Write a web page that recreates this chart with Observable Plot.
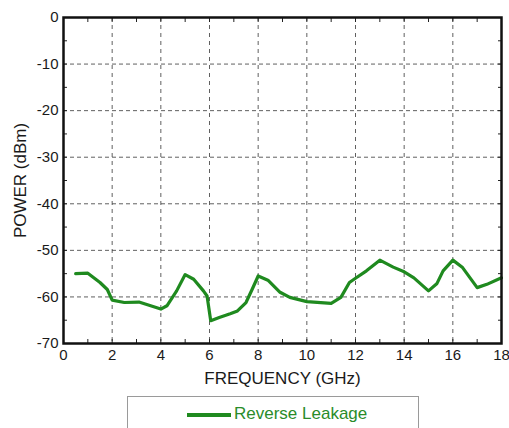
<!DOCTYPE html>
<html><head><meta charset="utf-8">
<script src="https://cdn.jsdelivr.net/npm/d3@7"></script>
<script src="https://cdn.jsdelivr.net/npm/@observablehq/plot@0.6"></script>
<style>
body{margin:0;background:#fff;font-family:"Liberation Sans",Arial,sans-serif;}
#wrap{position:relative;width:509px;height:428px;overflow:hidden;}
#legend{position:absolute;left:127px;top:396px;width:292px;height:40px;border:1px solid #9a9a9a;box-sizing:border-box;background:#fff;}
#legend .sw{position:absolute;left:59px;top:16px;width:44px;height:3.5px;background:#1f8a1f;}
#legend .tx{position:absolute;left:106px;top:7px;font-size:17px;color:#2a8c2a;}
</style></head>
<body><div id="wrap"><div id="chart"></div><div id="legend"><div class="sw"></div><div class="tx">Reverse Leakage</div></div></div>
<script>
const freq = [0.5,1.0,1.5,1.8,2.0,2.5,3.1,4.0,4.25,4.65,5.0,5.35,5.75,5.9,6.05,6.4,6.85,7.15,7.5,7.75,8.0,8.4,8.9,9.3,10.0,11.0,11.4,11.75,12.0,12.45,13.0,13.55,14.0,14.4,15.0,15.35,15.6,16.0,16.4,17.0,17.4,18.0];
const power = [-55,-54.9,-56.9,-58.4,-60.7,-61.2,-61.1,-62.6,-61.9,-58.7,-55.2,-56.2,-58.7,-59.8,-65.1,-64.4,-63.6,-63,-61.2,-58.4,-55.5,-56.4,-59,-60.1,-61,-61.4,-60.1,-56.9,-56,-54.4,-52.1,-53.6,-54.6,-55.9,-58.7,-57.1,-54.4,-52.1,-53.7,-58,-57.3,-55.9];
const xTicks = [0,2,4,6,8,10,12,14,16,18];
const yTicks = [0,-10,-20,-30,-40,-50,-60,-70];
const xMinor = d3.range(0,19,1);
const yMinor = d3.range(-70,1,5);
const data = freq.map((f,i)=>({f, p: power[i]}));
const fmt = d => String(d);

const plot = Plot.plot({
  width: 509, height: 392,
  marginTop: 17, marginLeft: 63, marginRight: 8, marginBottom: 49,
  style: {fontFamily: '"Liberation Sans", Arial, sans-serif', fontSize: "15px", color: "#1a1a1a", background: "#fff"},
  x: {domain: [0,18]},
  y: {domain: [-70,0]},
  marks: [
    Plot.gridX(xTicks.slice(1,-1), {stroke: "#444", strokeOpacity: 0.85, strokeDasharray: "4,4", strokeWidth: 1}),
    Plot.gridY(yTicks.slice(1,-1), {stroke: "#444", strokeOpacity: 0.85, strokeDasharray: "4,3", strokeWidth: 1}),
    Plot.axisX({anchor: "bottom", ticks: xMinor, tickSize: -4, text: null, label: null, stroke: "#222"}),
    Plot.axisX({anchor: "top", ticks: xMinor, tickSize: -4, text: null, label: null, stroke: "#222"}),
    Plot.axisY({anchor: "left", ticks: yMinor, tickSize: -4, text: null, label: null, stroke: "#222"}),
    Plot.axisY({anchor: "right", ticks: yMinor, tickSize: -4, text: null, label: null, stroke: "#222"}),
    Plot.axisX({anchor: "bottom", ticks: xTicks, tickFormat: fmt, tickSize: 0, tickPadding: 6, fontSize: 15, label: null}),
    Plot.axisY({anchor: "left", ticks: yTicks, tickFormat: fmt, tickSize: 0, tickPadding: 5, fontSize: 15, label: null}),
    Plot.axisX({anchor: "bottom", ticks: [], tickSize: 0, label: "FREQUENCY (GHz)", labelAnchor: "center", labelOffset: 40, labelArrow: "none", fontSize: 17}),
    Plot.axisY({anchor: "left", ticks: [], tickSize: 0, label: "POWER (dBm)", labelAnchor: "center", labelOffset: 50, labelArrow: "none", fontSize: 17}),
    Plot.line(data, {x: "f", y: "p", stroke: "#1f8a1f", strokeWidth: 3.2, curve: "linear"}),
    Plot.frame({stroke: "#111", strokeWidth: 2.5})
  ]
});
document.getElementById("chart").appendChild(plot);
</script></body></html>
